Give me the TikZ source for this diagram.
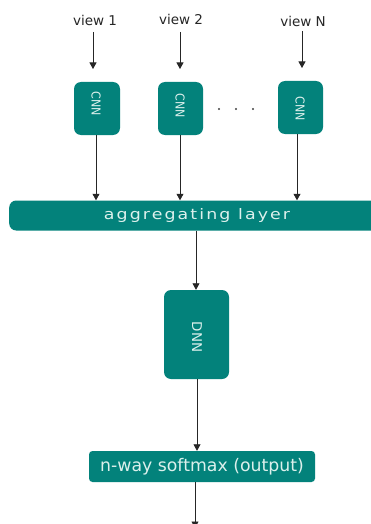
\documentclass[tikz,border=0pt]{standalone}
\usepackage{fontspec}
\setmainfont{DejaVu Sans}
\newfontfamily\wide[LetterSpace=12]{DejaVu Sans}
\usetikzlibrary{arrows.meta}
\definecolor{tealbox}{RGB}{3,130,123}
\definecolor{boxtext}{RGB}{220,240,236}
\tikzset{
  box/.style={fill=tealbox, draw=none, rounded corners=7pt, text=boxtext, inner sep=0pt},
  conn/.style={draw=black!85, line width=0.8pt, -{Triangle[length=6.5pt,width=7pt]}},
  viewlbl/.style={font=\fontsize{13.5}{15}\selectfont, text=black!85, inner sep=0pt},
  dotn/.style={circle, fill=black!75, inner sep=0pt, minimum size=2.4pt}
}
\newcommand{\cnnlbl}{\rotatebox{-90}{\scalebox{0.9}[1]{\fontsize{12.3}{13}\selectfont CNN}}}
\begin{document}
\begin{tikzpicture}[x=1pt,y=-1pt]
\useasboundingbox (0,0) rectangle (370,524);
% view labels
\node[viewlbl] (v1) at (95,20) {view 1};
\node[viewlbl] (v2) at (181,19) {view 2};
\node[viewlbl] (vN) at (303,21) {view N};
% CNN boxes
\node[box, minimum width=46pt, minimum height=53pt] (c1) at (97,108.5) {};
\node[box, minimum width=45pt, minimum height=53pt] (c2) at (180.5,108.5) {};
\node[box, minimum width=45pt, minimum height=53pt] (c3) at (300.5,107.5) {};
\node[text=boxtext, inner sep=0pt] (c1t) at (96,104) {\cnnlbl};
\node[text=boxtext, inner sep=0pt] (c2t) at (180,106) {\cnnlbl};
\node[text=boxtext, inner sep=0pt] (c3t) at (300,109) {\cnnlbl};
\node[dotn] (d1) at (219,109) {};
\node[dotn] (d2) at (236,109) {};
\node[dotn] (d3) at (253,109) {};
% aggregating layer
\node[box, minimum width=375pt, minimum height=30pt, anchor=west] (agg) at (9,215.5) {};
\node[text=boxtext, inner sep=0pt] (aggt) at (197,215.5) {\scalebox{1.2}[1]{\wide\fontsize{14.5}{16}\selectfont aggregating layer}};
% DNN
\node[box, minimum width=65pt, minimum height=89pt] (dnn) at (196.5,334.5) {};
\node[text=boxtext, inner sep=0pt] (dnnt) at (197,337) {\rotatebox{-90}{\fontsize{13.5}{14}\selectfont DNN}};
% softmax
\node[box, rounded corners=3.5pt, minimum width=226pt, minimum height=31pt] (sm) at (202,466.5) {\fontsize{17.3}{18}\selectfont n-way softmax (output)};
% arrows
\coordinate (v1a) at (93,32); \coordinate (v1b) at (93,69);
\coordinate (v2a) at (180,32); \coordinate (v2b) at (180,69);
\coordinate (vNa) at (302,31); \coordinate (vNb) at (302,68);
\draw[conn] (v1a) -- (v1b);
\draw[conn] (v2a) -- (v2b);
\draw[conn] (vNa) -- (vNb);
\draw[conn] (c1.south -| 96,0) -- (agg.north -| 96,0);
\draw[conn] (c2.south -| 180,0) -- (agg.north -| 180,0);
\draw[conn] (c3.south -| 297,0) -- (agg.north -| 297,0);
\draw[conn] (agg.south -| 196,0) -- (dnn.north -| 196,0);
\draw[conn] (dnn.south -| 197,0) -- (sm.north -| 197,0);
\coordinate (out) at (195,528);
\draw[conn] (sm.south -| 195,0) -- (out);
\end{tikzpicture}
\end{document}
